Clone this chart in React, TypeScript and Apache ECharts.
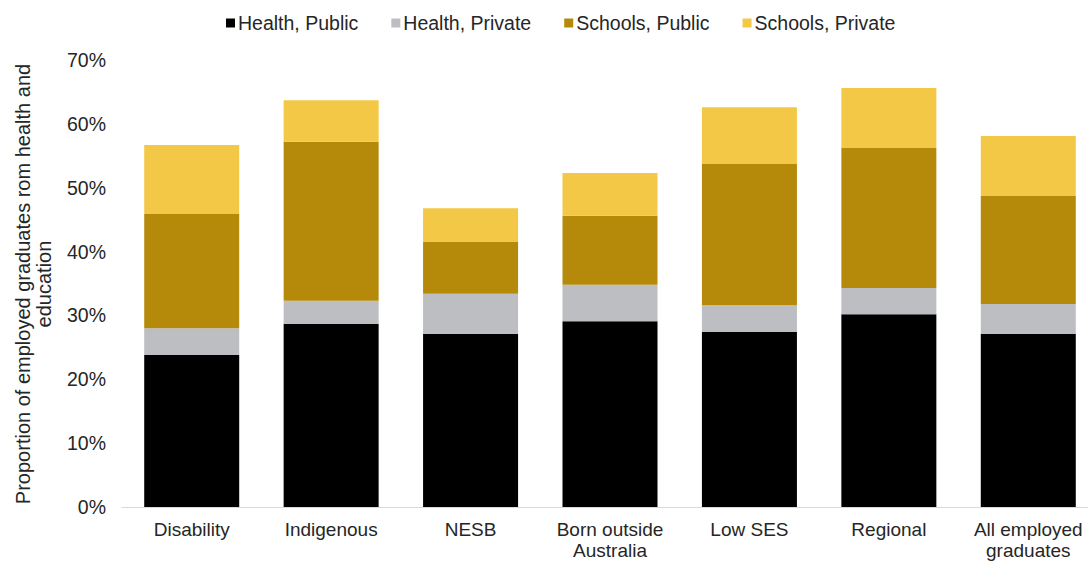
import React, { useEffect, useRef } from "react";
import * as echarts from "echarts";

const categories = [
  "Disability",
  "Indigenous",
  "NESB",
  "Born outside\nAustralia",
  "Low SES",
  "Regional",
  "All employed\ngraduates",
];
const healthPublic = [23.8, 28.7, 27.1, 29.1, 27.4, 30.2, 27.1];
const healthPrivate = [4.2, 3.6, 6.3, 5.7, 4.2, 4.1, 4.7];
const schoolsPublic = [17.9, 24.9, 8.1, 10.8, 22.1, 21.9, 16.9];
const schoolsPrivate = [10.8, 6.5, 5.3, 6.7, 8.9, 9.4, 9.4];
const seriesNames = ["Health, Public", "Health, Private", "Schools, Public", "Schools, Private"];
const colors = ["#000000", "#BDBEC1", "#B58A0A", "#F3C846"];
const yTicks = [0, 10, 20, 30, 40, 50, 60, 70];

const FONT = "Liberation Sans, Arial, sans-serif";
const TEXT = "#262626";

export default function App() {
  const ref = useRef<HTMLDivElement>(null);
  useEffect(() => {
    if (!ref.current) return;
    const chart = echarts.init(ref.current, null, { renderer: "svg" });
    const values = [healthPublic, healthPrivate, schoolsPublic, schoolsPrivate];
    chart.setOption({
      animation: false,
      color: colors,
      textStyle: { fontFamily: FONT },
      legend: {
        top: 8,
        left: 221,
        itemWidth: 9,
        itemHeight: 9,
        itemGap: 33,
        icon: "rect",
        textStyle: { fontSize: 19.5, color: TEXT, fontFamily: FONT, padding: [0, 0, 0, -2] },
        data: seriesNames,
      },
      grid: {
        left: 122,
        right: -10,
        top: 60,
        bottom: 54,
        containLabel: false,
        outerBoundsMode: "none",
      },
      xAxis: {
        type: "category",
        data: categories,
        axisLine: { lineStyle: { color: "#D9D9D9", width: 1 } },
        axisTick: { show: false },
        axisLabel: {
          color: TEXT,
          fontSize: 19,
          fontFamily: FONT,
          margin: 12,
          lineHeight: 21,
          interval: 0,
        },
      },
      yAxis: {
        type: "value",
        min: yTicks[0],
        max: yTicks[yTicks.length - 1],
        interval: 10,
        splitLine: { show: false },
        axisLine: { show: false },
        axisTick: { show: false },
        axisLabel: {
          color: TEXT,
          fontSize: 19.5,
          fontFamily: FONT,
          margin: 16,
          formatter: "{value}%",
        },
      },
      graphic: [
        {
          type: "text",
          x: 33,
          y: 284,
          rotation: Math.PI / 2,
          style: {
            text: "Proportion of employed graduates rom health and\neducation",
            align: "center",
            verticalAlign: "middle",
            font: `20px ${FONT}`,
            fill: TEXT,
            lineHeight: 21,
          },
        },
      ],
      series: seriesNames.map((name, i) => ({
        name,
        type: "bar",
        stack: "total",
        barWidth: 95,
        data: values[i],
        itemStyle: { color: colors[i] },
      })),
    });
    return () => chart.dispose();
  }, []);
  return <div ref={ref} style={{ width: 1088, height: 561, position: "absolute", left: 0, top: 0 }} />;
}
